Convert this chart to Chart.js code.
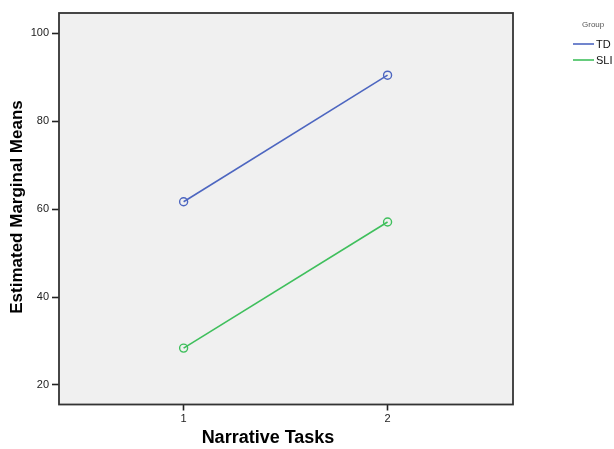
<!DOCTYPE html>
<html>
<head>
<meta charset="utf-8">
<script src="https://cdn.jsdelivr.net/npm/chart.js@4.4.1/dist/chart.umd.min.js"></script>
<style>
  html, body { margin: 0; padding: 0; background: #ffffff; }
  #wrap { position: relative; width: 614px; height: 449px; }
</style>
</head>
<body>
<div id="wrap"><canvas id="chart" width="614" height="449"></canvas></div>
<script>
// Estimated marginal means per narrative task, by group
const tasks = [1, 2];
const groupNames = ['TD', 'SLI'];
const tdMeans = [61.7, 90.5];
const sliMeans = [28.4, 57.1];
const yTicks = [20, 40, 60, 80, 100];
const xTicks = [1, 2];

const colors = { TD: '#4d66c0', SLI: '#3fbf5c' };
const FONT = '"Liberation Sans", Arial, sans-serif';

function series(values) {
  return tasks.map((t, i) => ({ x: t, y: values[i] }));
}

// Plot frame, axis titles and the "Group" legend
const framePlugin = {
  id: 'frame',
  beforeDatasetsDraw(chart) {
    const { ctx, chartArea: a } = chart;
    ctx.save();
    ctx.fillStyle = '#f0f0f0';
    ctx.fillRect(a.left, a.top, a.right - a.left, a.bottom - a.top);
    ctx.restore();
  },
  afterDraw(chart) {
    const { ctx, chartArea: a } = chart;
    ctx.save();
    ctx.strokeStyle = '#333';
    ctx.lineWidth = 1.8;
    ctx.strokeRect(a.left, a.top, a.right - a.left, a.bottom - a.top);

    // axis titles
    ctx.fillStyle = '#000';
    ctx.textAlign = 'center';
    ctx.textBaseline = 'middle';
    ctx.font = 'bold 18px ' + FONT;
    ctx.fillText('Narrative Tasks', 268, 438);
    ctx.translate(17, 207);
    ctx.rotate(-Math.PI / 2);
    ctx.font = 'bold 17px ' + FONT;
    ctx.fillText('Estimated Marginal Means', 0, 0);
    ctx.restore();

    // legend
    ctx.save();
    ctx.textBaseline = 'middle';
    ctx.textAlign = 'left';
    ctx.fillStyle = '#555';
    ctx.font = '8px ' + FONT;
    ctx.fillText('Group', 582, 25);
    chart.data.datasets.forEach((ds, i) => {
      const y = 44 + i * 16;
      ctx.strokeStyle = ds.borderColor;
      ctx.lineWidth = 1.6;
      ctx.beginPath();
      ctx.moveTo(573, y);
      ctx.lineTo(594, y);
      ctx.stroke();
      ctx.fillStyle = '#111';
      ctx.font = '11px ' + FONT;
      ctx.fillText(ds.label, 596, y + 1);
    });
    ctx.restore();
  }
};

new Chart(document.getElementById('chart'), {
  type: 'line',
  data: {
    datasets: [
      {
        label: groupNames[0],
        data: series(tdMeans),
        borderColor: colors.TD,
        backgroundColor: 'rgba(0,0,0,0)',
        borderWidth: 1.6,
        pointRadius: 4,
        pointBorderWidth: 1.4,
        pointBackgroundColor: 'rgba(0,0,0,0)',
        pointBorderColor: colors.TD
      },
      {
        label: groupNames[1],
        data: series(sliMeans),
        borderColor: colors.SLI,
        backgroundColor: 'rgba(0,0,0,0)',
        borderWidth: 1.6,
        pointRadius: 4,
        pointBorderWidth: 1.4,
        pointBackgroundColor: 'rgba(0,0,0,0)',
        pointBorderColor: colors.SLI
      }
    ]
  },
  options: {
    responsive: false,
    animation: false,
    devicePixelRatio: 1,
    layout: { padding: { top: 13, right: 101, left: 0, bottom: 0 } },
    plugins: {
      legend: { display: false },
      tooltip: { enabled: false }
    },
    scales: {
      x: {
        type: 'linear',
        min: 0.389,
        max: 2.615,
        afterBuildTicks(scale) { scale.ticks = xTicks.map(v => ({ value: v })); },
        afterFit(scale) { scale.height = 44.5; },
        border: { display: false },
        grid: { drawOnChartArea: false, tickLength: 6, color: '#222', tickWidth: 1.6 },
        ticks: { color: '#222', font: { family: FONT, size: 11 }, padding: 2 }
      },
      y: {
        type: 'linear',
        min: 15.56,
        max: 104.65,
        afterBuildTicks(scale) { scale.ticks = yTicks.map(v => ({ value: v })); },
        afterFit(scale) { scale.width = 59; },
        border: { display: false },
        grid: { drawOnChartArea: false, tickLength: 7, color: '#222', tickWidth: 1.6 },
        ticks: { color: '#222', font: { family: FONT, size: 11 }, padding: 3 }
      }
    }
  },
  plugins: [framePlugin]
});
</script>
</body>
</html>
